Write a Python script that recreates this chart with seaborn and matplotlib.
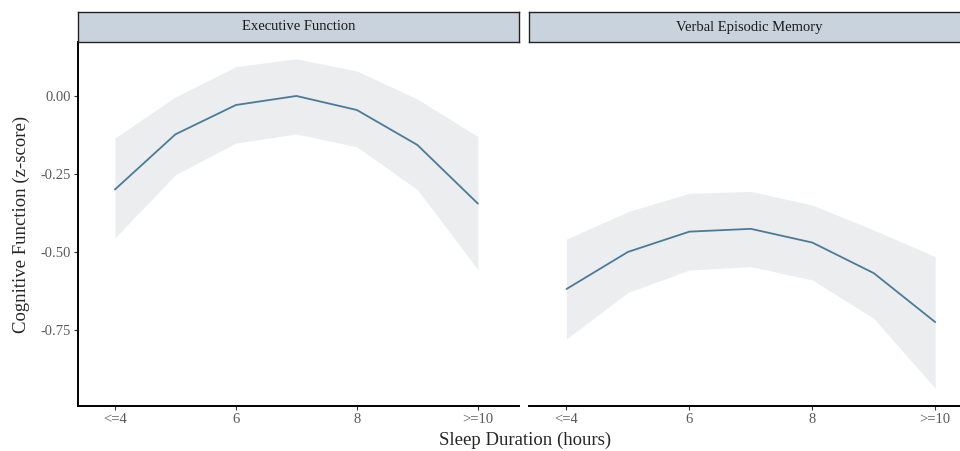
import numpy as np
import pandas as pd
import matplotlib
matplotlib.use("Agg")
import matplotlib.pyplot as plt
import seaborn as sns

# sleep duration categories (4 = "<=4", 10 = ">=10")
hours = [4, 5, 6, 7, 8, 9, 10]
tick_pos = [4, 6, 8, 10]
tick_labels = ["<=4", "6", "8", ">=10"]

# Executive Function: estimate and 95% CI
ef_est = [-0.300, -0.123, -0.029, 0.000, -0.045, -0.157, -0.345]
ef_upper = [-0.135, -0.003, 0.094, 0.119, 0.080, -0.010, -0.130]
ef_lower = [-0.455, -0.253, -0.151, -0.122, -0.163, -0.300, -0.557]

# Verbal Episodic Memory: estimate and 95% CI
vm_est = [-0.619, -0.500, -0.435, -0.426, -0.470, -0.568, -0.725]
vm_upper = [-0.459, -0.371, -0.312, -0.306, -0.350, -0.430, -0.515]
vm_lower = [-0.779, -0.630, -0.558, -0.547, -0.590, -0.713, -0.937]

panels = ["Executive Function", "Verbal Episodic Memory"]
yticks = [0.0, -0.25, -0.50, -0.75]

df = pd.concat([
    pd.DataFrame({"hours": hours, "est": ef_est, "lo": ef_lower, "hi": ef_upper, "outcome": panels[0]}),
    pd.DataFrame({"hours": hours, "est": vm_est, "lo": vm_lower, "hi": vm_upper, "outcome": panels[1]}),
])

sns.set_theme(style="white")
plt.rcParams['font.family'] = ['Liberation Serif', 'DejaVu Serif']

W, H = 960, 451
fig = plt.figure(figsize=(W / 100, H / 100), dpi=100)

line_color = "#4a7b99"
band_color = "#ebedef"
strip_color = "#c9d3dd"
tick_grey = "#5a5a5a"

ax_bottom, ax_top = 406, 42
strip_h = 30
lefts = [78, 529]
widths = [441, 448]  # right panel runs past the crop edge

for i, name in enumerate(panels):
    sub = df[df["outcome"] == name]
    ax = fig.add_axes([lefts[i] / W, 1 - ax_bottom / H, widths[i] / W, (ax_bottom - ax_top) / H])
    ax.fill_between(sub["hours"], sub["lo"], sub["hi"], color=band_color, lw=0)
    sns.lineplot(data=sub, x="hours", y="est", ax=ax, color=line_color, lw=1.3)
    ax.set_xlim(3.39, 10.68)
    ax.set_ylim(-0.994, 0.173)
    ax.set_xticks(tick_pos)
    ax.set_xticklabels(tick_labels)
    ax.set_xlabel("")
    ax.set_ylabel("")
    ax.tick_params(axis="both", colors="#333333", labelcolor=tick_grey, labelsize=10.5,
                   length=3, width=0.8, bottom=True, left=(i == 0), pad=2)
    for s in ["top", "right"]:
        ax.spines[s].set_visible(False)
    ax.spines["bottom"].set_color("black")
    ax.spines["bottom"].set_linewidth(1.4)
    if i == 0:
        ax.set_yticks(yticks)
        ax.set_yticklabels([f"{v:.2f}" for v in yticks])
        ax.spines["left"].set_color("black")
        ax.spines["left"].set_linewidth(1.4)
    else:
        ax.spines["left"].set_visible(False)
        ax.set_yticks([])

    # facet strip
    sax = fig.add_axes([lefts[i] / W, 1 - ax_top / H, widths[i] / W, strip_h / H])
    sax.set_facecolor(strip_color)
    sax.set_xticks([])
    sax.set_yticks([])
    for s in sax.spines.values():
        s.set_color("#222222")
        s.set_linewidth(1.0)
    sax.text(441 / widths[i] / 2, 0.5, name, ha="center", va="center", fontsize=10.5,
             color="#1a1a1a", transform=sax.transAxes)

fig.text(525 / W, 1 - 440 / H, "Sleep Duration (hours)", ha="center", va="center", fontsize=13.5)
fig.text(21 / W, 1 - 224 / H, "Cognitive Function (z-score)", ha="center", va="center",
         rotation=90, fontsize=13.5)

fig.savefig("out.png", dpi=100)
